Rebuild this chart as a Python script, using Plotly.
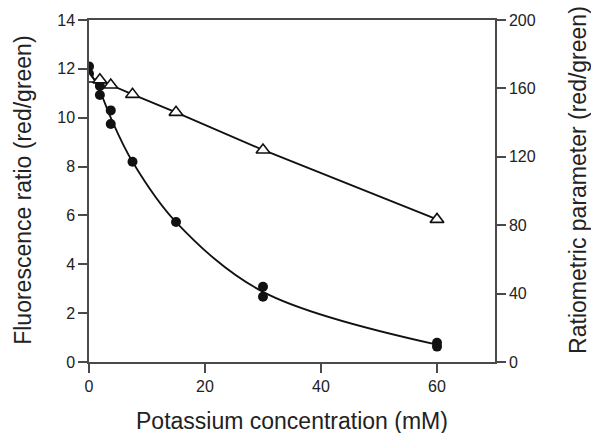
import plotly.graph_objects as go

# Data
conc = [0, 1.875, 3.75, 7.5, 15, 30, 60]
circle_x = [0, 0, 1.875, 1.875, 3.75, 3.75, 7.5, 15, 30, 30, 60, 60]
circle_y = [12.1, 11.8, 11.3, 10.93, 10.3, 9.74, 8.2, 5.73, 3.08, 2.67, 0.79, 0.63]
curve_y = [11.95, 11.1, 10.0, 8.2, 5.73, 2.87, 0.71]
triangle_y = [165.5, 165, 162, 156.5, 146, 124, 83.4]

left_ticks = [0, 2, 4, 6, 8, 10, 12, 14]
right_ticks = [0, 40, 80, 120, 160, 200]
x_ticks = [0, 20, 40, 60]

FONT = "Liberation Sans, Arial, Helvetica, sans-serif"
AXC = "#4a4a4a"
TXC = "#222222"

fig = go.Figure()

fig.add_trace(go.Scatter(
    x=conc, y=curve_y, mode="lines",
    line=dict(color="#111111", width=1.8, shape="spline", smoothing=1.0),
    hoverinfo="skip", showlegend=False))

fig.add_trace(go.Scatter(
    x=conc, y=triangle_y, mode="lines+markers", yaxis="y2",
    line=dict(color="#111111", width=1.8),
    marker=dict(symbol="triangle-up", size=12, color="white",
                line=dict(color="#111111", width=1.6)),
    showlegend=False))

fig.add_trace(go.Scatter(
    x=circle_x, y=circle_y, mode="markers",
    marker=dict(symbol="circle", size=10, color="#111111"),
    showlegend=False))

axis_common = dict(
    showgrid=False, zeroline=False, showline=True, linecolor=AXC, linewidth=1.5,
    ticks="outside", ticklen=9, tickwidth=1.5, tickcolor=AXC,
    tickfont=dict(family=FONT, size=16, color=TXC),
)

fig.update_layout(
    width=591, height=433,
    margin=dict(l=89, r=96, t=20, b=71),
    plot_bgcolor="white", paper_bgcolor="white",
    xaxis=dict(range=[0, 70], tickvals=x_ticks, mirror=True, **axis_common),
    yaxis=dict(range=[0, 14], tickvals=left_ticks, **axis_common),
    yaxis2=dict(range=[0, 200], tickvals=right_ticks, overlaying="y", side="right",
                **axis_common),
    annotations=[
        dict(text="Potassium concentration (mM)", xref="paper", yref="paper",
             x=0.501, y=-0.173, showarrow=False, xanchor="center", yanchor="middle",
             font=dict(family=FONT, size=23, color=TXC)),
        dict(text="Fluorescence ratio (red/green)", xref="paper", yref="paper",
             x=-0.163, y=0.503, showarrow=False, textangle=-90,
             xanchor="center", yanchor="middle",
             font=dict(family=FONT, size=23, color=TXC)),
        dict(text="Ratiometric parameter (red/green)", xref="paper", yref="paper",
             x=1.204, y=0.532, showarrow=False, textangle=-90,
             xanchor="center", yanchor="middle",
             font=dict(family=FONT, size=23, color=TXC)),
    ],
)

fig.write_html("out.html")
